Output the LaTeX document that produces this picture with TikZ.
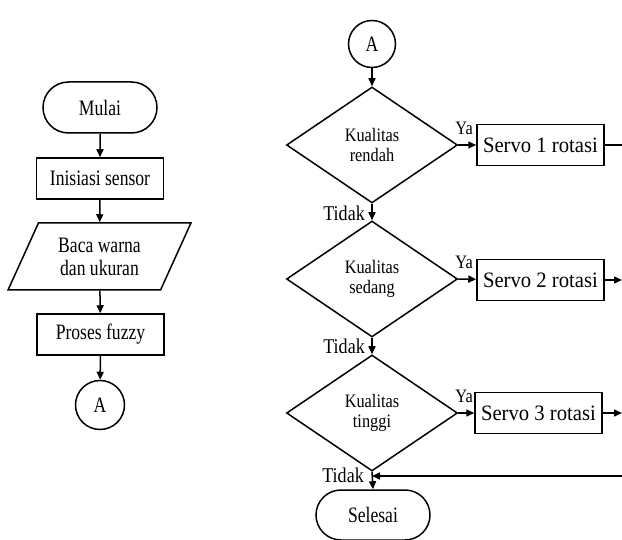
\documentclass[tikz,border=0pt]{standalone}
\usepackage{fontspec}
\setmainfont{Liberation Serif}[FakeStretch=0.8]
\newfontfamily\servofont{Liberation Serif}[FakeStretch=0.94]
\newfontfamily\diafont{Liberation Serif}[FakeStretch=0.86]
\usetikzlibrary{shapes.geometric,shapes.misc,arrows.meta}
\tikzset{
  base/.style={draw, line width=1.5pt, align=center, inner sep=1pt, font=\fontsize{22}{23}\selectfont},
  term/.style={base, rounded rectangle, minimum width=116pt, minimum height=51pt},
  proc/.style={base, rectangle, minimum width=127pt, minimum height=41pt},
  servo/.style={proc, font=\servofont\fontsize{22}{23}\selectfont},
  io/.style={base, trapezium, trapezium left angle=62, trapezium right angle=118, trapezium stretches=true, minimum width=183pt, minimum height=67pt},
  conn/.style={base, circle, minimum size=49pt},
  dec/.style={base, diamond, inner sep=0pt, minimum width=171pt, minimum height=116pt, font=\diafont\fontsize{19}{20}\selectfont},
  lbl/.style={inner sep=1pt, font=\diafont\fontsize{19}{20}\selectfont},
  tdlbl/.style={lbl, anchor=east, font=\diafont\fontsize{21}{22}\selectfont},
  yalbl/.style={lbl, anchor=south west, xshift=-4pt, yshift=9pt},
  arr/.style={line width=1.5pt, -{Triangle[length=8pt,width=7pt]}},
  ln/.style={line width=1.5pt}
}
\begin{document}
\begin{tikzpicture}[x=1pt,y=-1pt]
\useasboundingbox (0,0) rectangle (622,540);
% left column
\node[term] (mulai) at (100,107.5) {Mulai};
\node[proc] (init) at (100,178.5) {Inisiasi sensor};
\node[io] (baca) at (99.5,256.5) {Baca warna\\dan ukuran};
\node[proc] (fuzzy) at (100.5,334.5) {Proses fuzzy};
\node[conn] (a1) at (100,405) {A};
\draw[arr] (mulai) -- (init);
\draw[arr] (init) -- (baca);
\draw[arr] (baca) -- (fuzzy);
\draw[arr] (fuzzy) -- (a1);
% right column
\node[conn, minimum size=47pt] (a2) at (372,44) {A};
\node[dec] (d1) at (372,145) {Kualitas\\rendah};
\node[servo] (s1) at (540.5,145) {Servo 1 rotasi};
\node[dec] (d2) at (372,279) {Kualitas\\sedang};
\node[servo] (s2) at (540.5,280) {Servo 2 rotasi};
\node[dec] (d3) at (372,413) {Kualitas\\tinggi};
\node[servo] (s3) at (538.5,413) {Servo 3 rotasi};
\node[term, minimum height=50pt] (selesai) at (373,515) {Selesai};
\coordinate (e1) at (622,145);
\coordinate (e2) at (622,280);
\coordinate (e3) at (622,413);
\coordinate (e4) at (622,476);
\coordinate (j) at (372,476);
\draw[arr] (a2) -- (d1);
\draw[arr] (d1) -- (d2);
\draw[arr] (d2) -- (d3);
\draw[arr] (d3.south) -- (selesai.north);
\draw[arr] (d1.east) -- (s1);
\draw[arr] (d2.east) -- (s2);
\draw[arr] (d3.east) -- (s3);
\draw[ln] (s1) -- (e1);
\draw[arr] (s2) -- (e2);
\draw[arr] (s3) -- (e3);
\draw[arr] (e4) -- (j);
% labels
\node[yalbl] at (d1.east) {Ya};
\node[yalbl] at (d2.east) {Ya};
\node[yalbl] at (d3.east) {Ya};
\node[tdlbl] at (366,213) {Tidak};
\node[tdlbl] at (366,346) {Tidak};
\node[tdlbl] at (365,475) {Tidak};
\end{tikzpicture}
\end{document}
